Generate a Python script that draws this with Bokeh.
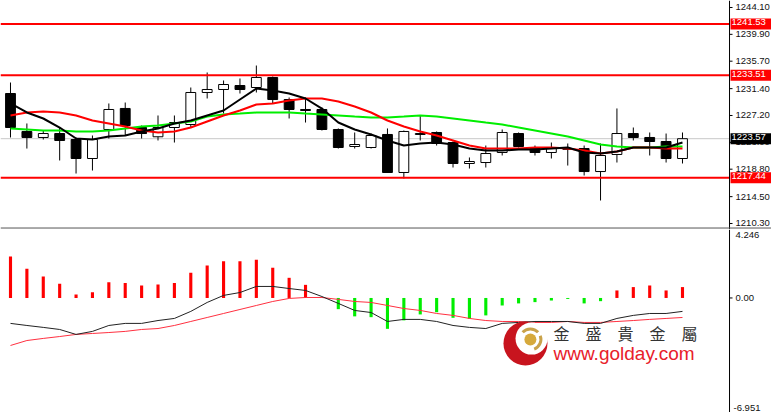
from bokeh.plotting import figure
from bokeh.models import ColumnDataSource, Span, Label, Range1d
from bokeh.layouts import column
from bokeh.embed import file_html
from bokeh.resources import INLINE
from bokeh.core.properties import value

# ---------------- data ----------------
opens = [1230.64, 1224.70, 1223.76, 1224.38, 1223.44, 1220.47, 1225.01, 1228.30, 1225.32, 1223.87,
         1225.32, 1225.79, 1230.80, 1231.27, 1231.89, 1231.58, 1233.15, 1229.70, 1228.14, 1228.14,
         1225.01, 1222.35, 1222.19, 1224.23, 1218.28, 1224.23, 1224.54, 1222.97, 1219.69, 1219.84,
         1221.41, 1224.38, 1222.03, 1221.41, 1222.03, 1222.03, 1218.43, 1221.10, 1224.38, 1223.76,
         1223.13, 1220.47]
highs = [1232.36, 1225.95, 1224.85, 1225.32, 1223.76, 1224.07, 1229.08, 1229.23, 1225.63, 1227.20,
         1227.20, 1231.58, 1233.93, 1232.68, 1232.99, 1235.02, 1233.30, 1230.02, 1230.02, 1228.45,
         1225.17, 1224.54, 1224.38, 1225.17, 1224.85, 1227.20, 1224.70, 1223.13, 1220.63, 1222.50,
         1225.01, 1224.54, 1222.50, 1222.97, 1222.82, 1222.50, 1222.82, 1228.30, 1225.32, 1224.54,
         1224.38, 1224.54]
lows = [1223.76, 1222.03, 1223.44, 1220.16, 1218.12, 1218.59, 1223.60, 1224.07, 1223.60, 1223.29,
        1222.97, 1225.32, 1229.86, 1227.51, 1230.64, 1230.80, 1229.08, 1226.73, 1226.10, 1224.85,
        1222.03, 1222.03, 1222.03, 1218.28, 1217.34, 1223.29, 1222.50, 1219.06, 1218.90, 1219.06,
        1220.94, 1222.19, 1220.94, 1220.47, 1219.37, 1217.81, 1213.90, 1219.84, 1223.29, 1220.94,
        1219.84, 1219.69]
closes = [1225.32, 1223.76, 1224.38, 1223.29, 1220.47, 1223.44, 1228.14, 1225.63, 1224.38, 1225.32,
          1226.10, 1230.80, 1231.27, 1232.05, 1231.27, 1233.15, 1229.70, 1228.14, 1227.98, 1225.01,
          1222.19, 1222.66, 1224.07, 1218.28, 1224.70, 1224.38, 1222.82, 1219.69, 1220.00, 1221.25,
          1224.54, 1222.35, 1221.41, 1222.03, 1221.90, 1218.43, 1220.94, 1224.38, 1223.76, 1223.13,
          1220.47, 1223.57]

ma_black = [1229.08, 1227.67, 1226.73, 1225.32, 1223.60, 1223.44, 1223.91, 1224.07, 1224.69, 1225.16,
            1225.95, 1226.42, 1227.20, 1227.98, 1229.70, 1231.42, 1231.11, 1230.64, 1229.86, 1228.29,
            1226.10, 1225.01, 1224.23, 1223.29, 1222.50, 1222.82, 1222.97, 1222.66, 1222.03, 1221.72,
            1221.72, 1221.88, 1221.88, 1222.03, 1222.19, 1221.41, 1221.25, 1221.56, 1222.19, 1222.19,
            1222.19, 1222.97]
ma_red = [1227.20, 1227.67, 1227.82, 1227.67, 1227.20, 1226.42, 1225.95, 1225.48, 1224.85, 1224.54,
          1224.69, 1225.32, 1226.26, 1227.20, 1227.98, 1228.92, 1229.08, 1229.55, 1229.86, 1229.86,
          1229.39, 1228.61, 1227.67, 1226.42, 1225.48, 1224.69, 1224.07, 1223.29, 1222.50, 1222.03,
          1222.03, 1222.03, 1222.19, 1222.19, 1222.03, 1221.72, 1221.25, 1221.56, 1222.19, 1222.19,
          1222.03, 1222.03]
ma_green = [1225.16, 1225.01, 1224.85, 1224.85, 1224.69, 1224.69, 1224.85, 1225.16, 1225.48, 1225.63,
            1225.95, 1226.26, 1227.04, 1227.36, 1227.51, 1227.67, 1227.67, 1227.67, 1227.51, 1227.36,
            1227.20, 1227.04, 1226.89, 1226.89, 1227.04, 1227.20, 1227.04, 1226.73, 1226.42, 1226.10,
            1225.79, 1225.32, 1224.85, 1224.38, 1223.91, 1223.29, 1222.66, 1222.35, 1222.19, 1222.19,
            1222.35, 1222.35]

macd_hist = [2.59, 1.82, 1.34, 0.89, 0.22, 0.36, 0.99, 0.93, 0.78, 0.84,
             0.93, 1.58, 2.03, 2.30, 2.30, 2.39, 1.89, 1.26, 0.82, 0.02,
             -0.70, -1.15, -1.20, -1.93, -1.40, -1.03, -0.89, -1.24, -1.30, -1.09,
             -0.47, -0.34, -0.26, -0.16, -0.06, -0.34, -0.20, 0.47, 0.68, 0.78,
             0.47, 0.68]
macd_dif = [-1.59, -1.72, -1.84, -1.97, -2.28, -2.09, -1.72, -1.59, -1.59, -1.41,
            -1.28, -0.84, -0.28, 0.16, 0.34, 0.72, 0.72, 0.59, 0.47, 0.09,
            -0.34, -0.78, -0.91, -1.47, -1.34, -1.34, -1.47, -1.72, -1.84, -1.91,
            -1.59, -1.53, -1.47, -1.47, -1.47, -1.59, -1.59, -1.28, -1.09, -0.97,
            -0.97, -0.84]
macd_dea = [-2.97, -2.66, -2.53, -2.41, -2.28, -2.22, -2.16, -2.09, -1.97, -1.91,
            -1.72, -1.47, -1.22, -0.97, -0.72, -0.47, -0.22, -0.03, 0.03, 0.03,
            -0.09, -0.22, -0.28, -0.47, -0.66, -0.78, -0.97, -1.09, -1.28, -1.41,
            -1.47, -1.47, -1.53, -1.53, -1.47, -1.53, -1.53, -1.47, -1.41, -1.34,
            -1.28, -1.22]

level_lines = [1241.53, 1233.51, 1217.44]
last_price = 1223.57
price_ticks = [1244.10, 1239.90, 1235.70, 1231.40, 1227.20, 1223.00, 1218.80, 1214.50, 1210.30]
macd_ticks = [0.0]
macd_max_label = "4.246"
macd_min_label = "-6.951"
brand_cn = "金　盛　貴　金　屬"
brand_url = "www.golday.com"

# ---------------- layout / style constants ----------------
W = 771
PX = 16.39                    # pixels per bar slot
XR = (-0.61, -0.61 + W / PX)  # visible bar-index range
AX = 43.87                    # price-scale (axis) position, in bar units
TICK = 3 / PX
LBL_X = AX + 6 / PX
FONT = "Liberation Sans"
LBL = "9.5px"

n = len(opens)
idx = list(range(n))
src = ColumnDataSource(dict(
    x=idx, h=highs, l=lows,
    top=[max(a, b) for a, b in zip(opens, closes)],
    bot=[min(a, b) for a, b in zip(opens, closes)],
    fill=["white" if c > o else "black" for o, c in zip(opens, closes)],
))


def base_fig(h, yr):
    p = figure(width=W, height=h, output_backend="svg", toolbar_location=None,
               x_range=Range1d(*XR), y_range=Range1d(*yr),
               min_border_left=0, min_border_right=0, min_border_top=0, min_border_bottom=0,
               background_fill_color="white", border_fill_color="white", outline_line_color=None)
    p.grid.visible = False
    p.xaxis.visible = False
    p.yaxis.visible = False
    p.add_layout(Span(location=AX, dimension="height", line_color="black", line_width=1))
    return p


def price_scale(p, ticks, labels):
    p.segment(x0=[AX] * len(ticks), y0=ticks, x1=[AX + TICK] * len(ticks), y1=ticks,
              line_color="black", line_width=1)
    p.text(x=[LBL_X] * len(ticks), y=ticks, text=labels, text_font=value(FONT),
           text_font_size=LBL, text_color="#111111", text_baseline="middle", text_align="left")


# ---------------- price panel ----------------
p1 = base_fig(229, (1209.36, 1245.195))
p1.add_layout(Span(location=1209.59, dimension="width", line_color="#555555", line_width=1))
p1.segment(x0=[XR[0]], y0=[last_price], x1=[AX], y1=[last_price], line_color="#c8c8c8", line_width=1)
price_scale(p1, price_ticks, [f"{t:.2f}" for t in price_ticks])

p1.segment(x0="x", y0="h", x1="x", y1="l", source=src, line_color="black", line_width=1)
p1.vbar(x="x", top="top", bottom="bot", width=0.6, fill_color="fill", line_color="black",
        line_width=1, source=src)
p1.line(idx, ma_green, line_color="#00ee00", line_width=2)
p1.line(idx, ma_red, line_color="#ff0000", line_width=2)
p1.line(idx, ma_black, line_color="#000000", line_width=2)
p1.segment(x0=[XR[0]] * 3, y0=level_lines, x1=[AX] * 3, y1=level_lines,
           line_color="#ff0000", line_width=2)
for lv, bg in [(level_lines[0], "#ff0000"), (level_lines[1], "#ff0000"), (level_lines[2], "#ff0000"),
               (last_price, "#000000")]:
    p1.add_layout(Label(x=AX + 1 / PX, y=lv, text=f"{lv:.2f}",
                        text_font=FONT, text_font_size=LBL, text_color="white",
                        text_baseline="middle", text_align="left",
                        background_fill_color=bg, padding=(1, 6, 1, 4)))

# ---------------- MACD panel ----------------
p2 = base_fig(183, (-7.16, 4.28))
price_scale(p2, macd_ticks, [f"{t:.2f}" for t in macd_ticks])
p2.text(x=[LBL_X, LBL_X - 2 / PX], y=[3.95, -6.85], text=[macd_max_label, macd_min_label],
        text_font=value(FONT), text_font_size=LBL, text_color="#111111",
        text_baseline="middle", text_align="left")

hist_colors = ["#ff0000" if v >= 0 else "#00ee00" for v in macd_hist]
p2.vbar(x=idx, top=macd_hist, bottom=0, width=0.19, fill_color=hist_colors, line_color=None)
p2.line(idx, macd_dea, line_color="#ff3040", line_width=1)
p2.line(idx, macd_dif, line_color="#222222", line_width=1)

# watermark (logo + brand)
LX, LY = 31.42, -2.84
p2.scatter([LX], [LY], size=44, marker="circle", fill_color="#c8141e", line_color=None)
p2.scatter([LX + 0.37], [LY + 0.3], size=32, marker="circle", fill_color="white", line_color=None)
p2.annular_wedge([LX + 0.3], [LY + 0.25], inner_radius=9, outer_radius=12,
                 inner_radius_units="screen", outer_radius_units="screen",
                 start_angle=0.75, end_angle=2.4, fill_color="#c9a24a", line_color=None)
p2.annular_wedge([LX + 0.3], [LY + 0.25], inner_radius=9, outer_radius=12,
                 inner_radius_units="screen", outer_radius_units="screen",
                 start_angle=-1.2, end_angle=0.35, fill_color="#c9a24a", line_color=None)
p2.scatter([LX + 0.3], [LY + 0.25], size=12, marker="circle", fill_color="#d6a93c", line_color=None)
p2.text([33.13], [-2.22], text=[brand_cn], text_font=value("Noto Sans CJK TC"),
        text_font_size="16px", text_color="#333333", text_baseline="middle", text_align="left")
p2.text([33.13], [-3.5], text=[brand_url], text_font=value(FONT),
        text_font_size="19px", text_color="#e8202a", text_baseline="middle", text_align="left")

layout = column(p1, p2, spacing=0)
open("out.html", "w").write(file_html(layout, INLINE))
